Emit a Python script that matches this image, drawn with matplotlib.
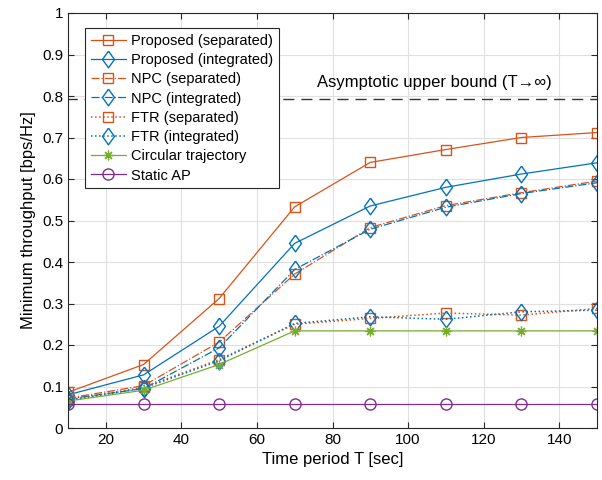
import matplotlib
matplotlib.use('Agg')
import matplotlib.pyplot as plt
import numpy as np

plt.rcParams['font.family'] = ['Liberation Sans', 'DejaVu Sans']

# Data.
T = [10, 30, 50, 70, 90, 110, 130, 150]
prop_sep = [0.086, 0.153, 0.312, 0.533, 0.640, 0.671, 0.700, 0.712]
prop_int = [0.080, 0.128, 0.245, 0.445, 0.535, 0.580, 0.612, 0.639]
npc_sep = [0.072, 0.102, 0.207, 0.371, 0.483, 0.536, 0.567, 0.595]
npc_int = [0.070, 0.095, 0.193, 0.382, 0.479, 0.532, 0.565, 0.591]
ftr_sep = [0.068, 0.098, 0.165, 0.250, 0.264, 0.277, 0.272, 0.288]
ftr_int = [0.066, 0.096, 0.162, 0.252, 0.268, 0.262, 0.280, 0.284]
circ = [0.065, 0.091, 0.153, 0.234, 0.234, 0.234, 0.234, 0.234]
static_ap = [0.059, 0.059, 0.059, 0.059, 0.059, 0.059, 0.059, 0.059]
bound = 0.792

c_or = '#D95319'
c_bl = '#0072BD'
c_gr = '#77AC30'
c_pu = '#7E2F8E'
star = (8, 2, 0)  # matlab style asterisk
diam = [(0, 1), (0.72, 0), (0, -1), (-0.72, 0), (0, 1)]  # matlab style diamond

fig = plt.figure(figsize=(6.02, 4.80), dpi=100)
ax = fig.add_axes([68/602., 52/480., 529/602., 415/480.])

ax.plot([0, 200], [bound, bound], color='#333333', lw=1.0, dashes=(8, 5))
ax.text(107, 0.833, u'Asymptotic upper bound (T\u2192\u221e)', ha='center', va='center', fontsize=12)

ax.plot(T, prop_sep, '-', color=c_or, marker='s', ms=7, mfc='none', lw=0.9, label='Proposed (separated)')
ax.plot(T, prop_int, '-', color=c_bl, marker=diam, ms=12, mfc='none', lw=0.9, label='Proposed (integrated)')
ax.plot(T, npc_sep, '-.', color=c_or, marker='s', ms=7, mfc='none', lw=0.9, label='NPC (separated)')
ax.plot(T, npc_int, '-.', color=c_bl, marker=diam, ms=12, mfc='none', lw=0.9, label='NPC (integrated)')
ax.plot(T, ftr_sep, ':', color=c_or, marker='s', ms=7, mfc='none', lw=1.1, label='FTR (separated)')
ax.plot(T, ftr_int, ':', color=c_bl, marker=diam, ms=12, mfc='none', lw=1.1, label='FTR (integrated)')
ax.plot(T, circ, '-', color=c_gr, marker=star, ms=7, mew=0.9, lw=0.9, label='Circular trajectory')
ax.plot(T, static_ap, '-', color=c_pu, marker='o', ms=8, mfc='none', lw=0.9, label='Static AP')

ax.set_xlim(10, 150)
ax.set_ylim(0, 1)
ax.set_xticks(np.arange(20, 150, 20))
ax.set_yticks(np.arange(0, 1.01, 0.1))
ax.set_yticklabels(['0', '0.1', '0.2', '0.3', '0.4', '0.5', '0.6', '0.7', '0.8', '0.9', '1'])
ax.tick_params(direction='in', labelsize=11, length=4, top=True, right=True, color='#262626')
ax.grid(True, color='#e0e0e0', lw=0.8)
ax.set_axisbelow(True)
for s in ax.spines.values():
    s.set_color('#262626')
ax.set_xlabel('Time period T [sec]', fontsize=12)
ax.set_ylabel('Minimum throughput [bps/Hz]', fontsize=12)

leg = ax.legend(loc='upper left', bbox_to_anchor=(85/602., 1-28/480.), bbox_transform=fig.transFigure,
                borderaxespad=0, fontsize=10.5, labelspacing=0.36, handlelength=2.4, handletextpad=0.35,
                fancybox=False, framealpha=1, edgecolor='#262626', borderpad=0.4)
leg.get_frame().set_linewidth(0.8)

fig.savefig('out.png', dpi=100)
